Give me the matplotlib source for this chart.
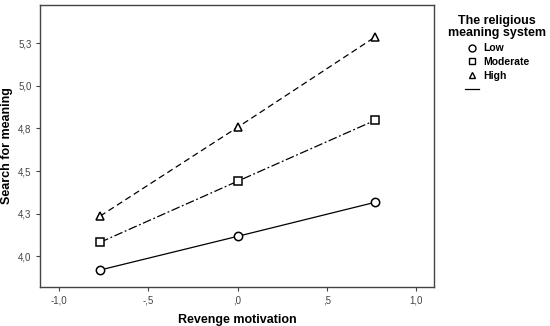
import matplotlib
matplotlib.use("Agg")
import matplotlib.pyplot as plt
from matplotlib.lines import Line2D
from matplotlib.ticker import FuncFormatter
from decimal import Decimal, ROUND_HALF_UP

plt.rcParams['font.family'] = ['Liberation Sans', 'DejaVu Sans']

# revenge motivation (centered), -1 SD / mean / +1 SD
revenge = [-0.77, 0.0, 0.77]
low = [3.918, 4.116, 4.316]
moderate = [4.081, 4.44, 4.798]
high = [4.235, 4.757, 5.288]

groups = ['Low', 'Moderate', 'High']
markers = ['o', 's', '^']
styles = ['-', (0, (7, 2, 1.5, 2)), (0, (5, 3))]

xticks = [-1.0, -0.5, 0.0, 0.5, 1.0]
yticks = [4.0, 4.25, 4.5, 4.75, 5.0, 5.25]


def spss_fmt(v, pos=None):
    # one decimal, half up, comma, no leading zero
    s = str(Decimal(str(v)).quantize(Decimal('0.1'), rounding=ROUND_HALF_UP))
    if s == '0.0' or s == '-0.0':
        s = '.0'
    elif s.startswith('0.'):
        s = s[1:]
    elif s.startswith('-0.'):
        s = '-' + s[2:]
    return s.replace('.', ',')


fig = plt.figure(figsize=(5.5, 3.26), dpi=100)
ax = fig.add_axes([0.0727, 0.1196, 0.7164, 0.8651])

for vals, m, ls in zip([low, moderate, high], markers, styles):
    ax.plot(revenge, vals, color='black', lw=0.9, linestyle=ls,
            marker=m, markersize=6, markerfacecolor='white',
            markeredgecolor='black', markeredgewidth=1.1)

ax.set_xlim(-1.107, 1.10)
ax.set_ylim(3.818, 5.476)
ax.set_xticks(xticks)
ax.set_yticks(yticks)
ax.xaxis.set_major_formatter(FuncFormatter(spss_fmt))
ax.yaxis.set_major_formatter(FuncFormatter(spss_fmt))
ax.tick_params(labelsize=7, colors='#444444', length=3, width=0.8, pad=3)
for sp in ax.spines.values():
    sp.set_color('#444444')
    sp.set_linewidth(1.0)

ax.set_xlabel('Revenge motivation', fontsize=9, fontweight='bold', labelpad=6)
ax.set_ylabel('Search for meaning', fontsize=9, fontweight='bold', labelpad=4)

handles = [Line2D([], [], color='black', marker=m, linestyle='none',
                  markersize=5, markerfacecolor='white', markeredgewidth=1.0)
           for m in markers]
handles.append(Line2D([], [], color='black', lw=0.9))
leg = fig.legend(handles, groups + [' '], title='The religious\nmeaning system',
                 loc='upper center', bbox_to_anchor=(0.904, 0.975), frameon=False,
                 prop={'size': 7.5, 'weight': 'bold'}, handlelength=1.4,
                 handletextpad=0.4, labelspacing=0.36, borderpad=0.2,
                 alignment='center')
leg.get_title().set_fontsize(9)
leg.get_title().set_fontweight('bold')
leg.get_title().set_linespacing(1.0)
leg.get_title().set_ha('center')

fig.savefig('out.png', dpi=100)
